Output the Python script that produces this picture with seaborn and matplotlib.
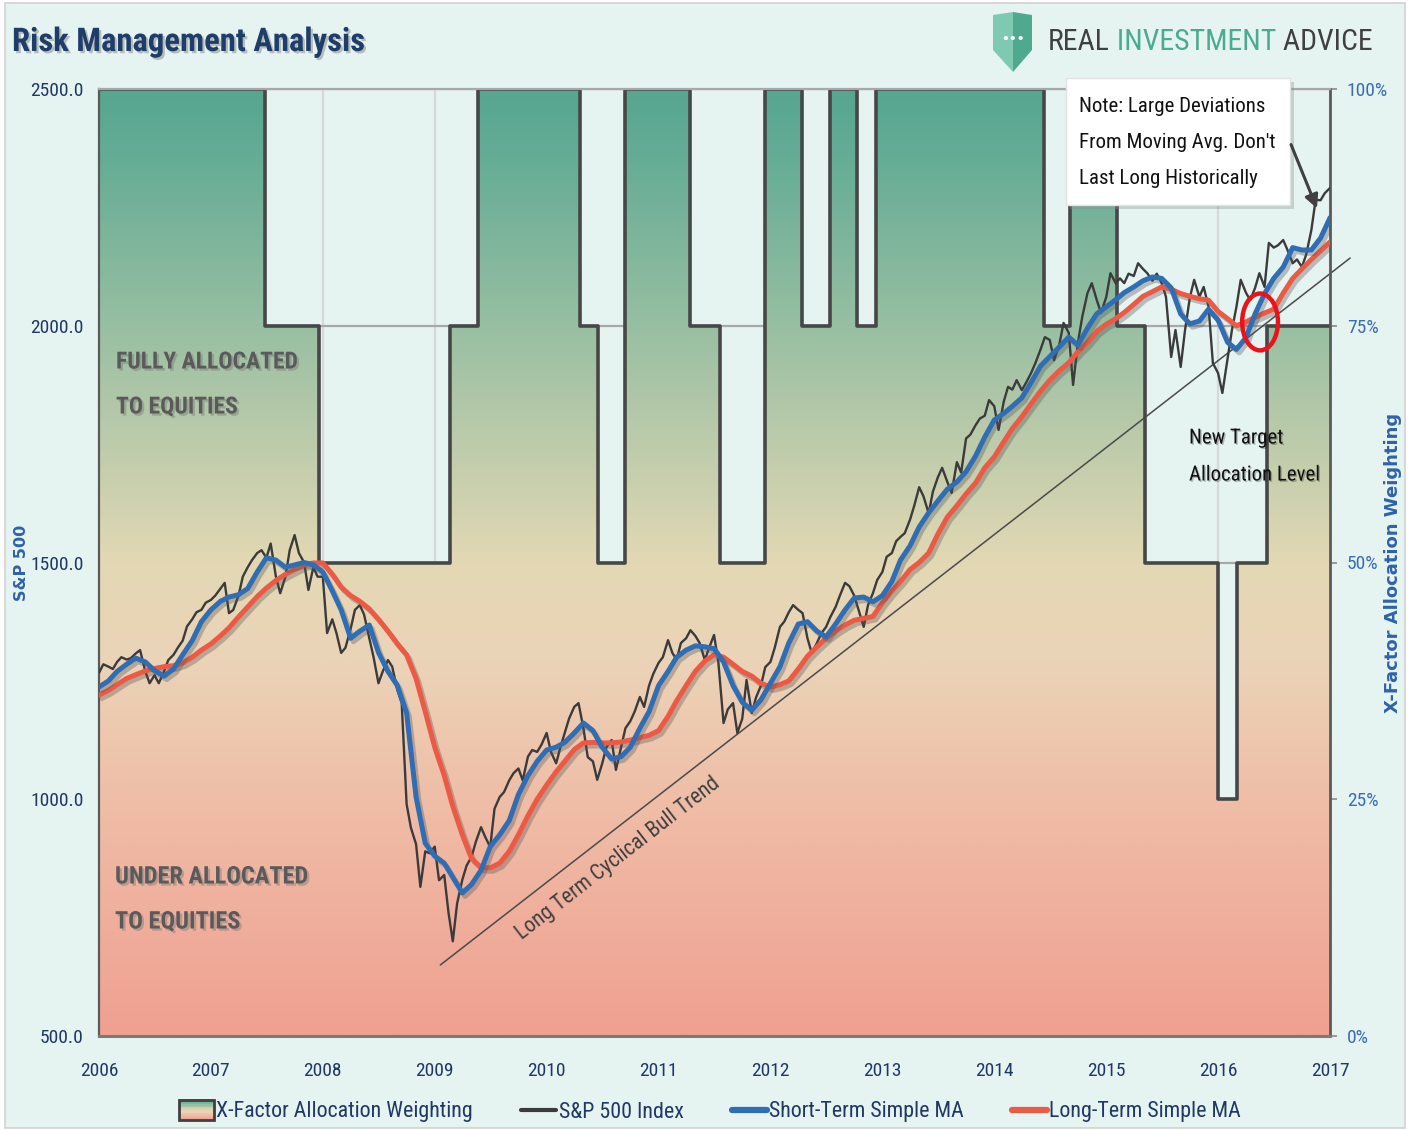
import numpy as np
import pandas as pd
import matplotlib
matplotlib.use("Agg")
import matplotlib.pyplot as plt
import seaborn as sns
from matplotlib import font_manager
from matplotlib.colors import LinearSegmentedColormap
from matplotlib.patches import Rectangle, Ellipse, Polygon, FancyArrowPatch
from matplotlib.legend_handler import HandlerBase
from matplotlib.lines import Line2D
import matplotlib.patheffects as pe

# ---------------- data ----------------
# S&P 500, semi-monthly (1st & 15th of each month), Jan 2006 .. Jan 2017
sp500_values = [
    1267, 1285, 1280, 1275, 1290, 1300, 1295, 1298, 1308, 1315, 1270, 1245, 1262, 1245, 1270, 1294, 1305, 1320, 1335, 1365, 1380, 1395, 1400, 1415,
    1421, 1430, 1445, 1457, 1393, 1400, 1430, 1470, 1490, 1505, 1520, 1526, 1510, 1540, 1470, 1435, 1470, 1526, 1558, 1520, 1500, 1442, 1490, 1470,
    1470, 1351, 1380, 1350, 1309, 1320, 1360, 1400, 1410, 1390, 1340, 1300, 1245, 1270, 1294, 1280, 1230, 1203, 990, 940, 905, 815, 890, 886,
    900, 829, 840, 760, 700, 780, 830, 860, 878, 910, 941, 920, 899, 980, 1005, 1015, 1040, 1055, 1065, 1040, 1090, 1104, 1100, 1115,
    1140, 1100, 1076, 1110, 1140, 1170, 1195, 1203, 1150, 1089, 1080, 1041, 1075, 1110, 1125, 1062, 1110, 1150, 1165, 1185, 1216, 1195, 1240, 1265,
    1288, 1300, 1336, 1309, 1295, 1330, 1340, 1357, 1345, 1330, 1294, 1320, 1347, 1290, 1161, 1190, 1203, 1140, 1170, 1252, 1182, 1215, 1240, 1279,
    1290, 1320, 1364, 1375, 1395, 1410, 1400, 1393, 1340, 1309, 1330, 1350, 1364, 1385, 1406, 1430, 1457, 1450, 1430, 1400, 1364, 1410, 1435, 1463,
    1480, 1512, 1520, 1545, 1554, 1562, 1590, 1620, 1659, 1640, 1604, 1650, 1680, 1700, 1670, 1647, 1712, 1690, 1762, 1770, 1790, 1804, 1810, 1843,
    1830, 1780, 1840, 1871, 1865, 1885, 1864, 1880, 1900, 1921, 1950, 1976, 1970, 1927, 1960, 2006, 1985, 1875, 1965, 2019, 2069, 2090, 2055, 2027,
    2060, 2111, 2090, 2100, 2090, 2110, 2105, 2132, 2120, 2111, 2095, 2110, 2090, 2061, 1934, 1991, 1913, 1990, 2060, 2097, 2061, 2082, 2040, 1921,
    1900, 1858, 1930, 1990, 2040, 2097, 2070, 2054, 2080, 2111, 2082, 2175, 2165, 2170, 2181, 2160, 2132, 2140, 2124, 2150, 2202, 2266, 2265, 2280,
    2291,
]
# Short-term simple MA, monthly, Jan 2006 .. Jan 2017
short_ma_values = [
    1237, 1250, 1270, 1285, 1298, 1290, 1272, 1260, 1275, 1305, 1335, 1375,
    1400, 1418, 1427, 1432, 1445, 1480, 1510, 1505, 1490, 1495, 1500, 1495,
    1480, 1440, 1400, 1340, 1355, 1368, 1310, 1270, 1240, 1182, 1005, 907,
    880, 865, 835, 802, 820, 850, 900, 925, 955, 1010, 1050, 1080,
    1104, 1110, 1120, 1140, 1161, 1145, 1110, 1085, 1090, 1110, 1150, 1185,
    1240, 1270, 1300, 1315, 1324, 1322, 1318, 1290, 1240, 1205, 1188, 1210,
    1245, 1280, 1330, 1370, 1375, 1355, 1343, 1370, 1400, 1425, 1427, 1417,
    1430, 1460, 1505, 1535, 1575, 1605, 1630, 1655, 1670, 1692, 1725, 1765,
    1801, 1815, 1830, 1848, 1880, 1915, 1935, 1955, 1976, 1959, 1995, 2025,
    2040, 2055, 2070, 2082, 2095, 2103, 2100, 2080, 2025, 2004, 2010, 2035,
    2012, 1965, 1950, 1975, 2025, 2068, 2100, 2124, 2165, 2160, 2160, 2185,
    2228,
]
# Long-term simple MA, monthly, Jan 2006 .. Jan 2017
long_ma_values = [
    1220, 1230, 1242, 1255, 1263, 1271, 1276, 1280, 1282, 1288, 1300, 1315,
    1328, 1345, 1362, 1385, 1406, 1428, 1446, 1462, 1475, 1485, 1495, 1499,
    1499, 1475, 1448, 1430, 1418, 1402, 1380, 1355, 1328, 1305, 1255, 1185,
    1110, 1050, 985, 925, 875, 856, 855, 865, 890, 925, 965, 1000,
    1030, 1058, 1080, 1105, 1119, 1120, 1119, 1119, 1121, 1125, 1130, 1135,
    1145, 1175, 1208, 1240, 1270, 1292, 1305, 1300, 1285, 1270, 1260, 1245,
    1237, 1242, 1250, 1275, 1302, 1322, 1340, 1355, 1368, 1378, 1382, 1386,
    1415, 1440, 1460, 1485, 1500, 1520, 1560, 1596, 1620, 1645, 1668, 1700,
    1723, 1755, 1783, 1808, 1835, 1862, 1885, 1905, 1922, 1945, 1965, 1988,
    2003, 2015, 2028, 2045, 2062, 2072, 2082, 2077, 2068, 2062, 2057, 2054,
    2030, 2015, 2000, 2008, 2018, 2027, 2035, 2069, 2100, 2120, 2140, 2158,
    2177,
]
# X-Factor allocation weighting (%): level in force from each change date
alloc_change_years = [2006.00, 2007.48, 2007.97, 2009.14, 2009.39, 2010.30, 2010.46, 2010.70,
                      2011.28, 2011.55, 2011.95, 2012.28, 2012.53, 2012.77, 2012.94, 2014.44,
                      2014.68, 2015.10, 2015.35, 2016.00, 2016.17, 2016.44]
alloc_levels = [100, 75, 50, 75, 100, 75, 50, 100,
                75, 50, 100, 75, 100, 75, 100, 75,
                100, 75, 50, 25, 50, 75]
alloc_end_year = 2017.0
# long-term cyclical bull trend line
trend_years = [2009.05, 2017.18]
trend_levels = [650, 2143]
# highlighted crossover
circle_year, circle_level = 2016.375, 2008

year_ticks = list(range(2006, 2018))
left_ticks = [500, 1000, 1500, 2000, 2500]
right_ticks = [0, 25, 50, 75, 100]
legend_labels = ["X-Factor Allocation Weighting", "S&P 500 Index", "Short-Term Simple MA", "Long-Term Simple MA"]

# ---------------- style ----------------
sns.set_theme(style="white")
installed = {f.name for f in font_manager.fontManager.ttflist}
narrow = None
for cand in ["Liberation Sans Narrow", "Roboto Condensed", "Open Sans Condensed", "Arial Narrow"]:
    if cand in installed:
        narrow = cand
        break
if narrow is None:
    narrow = "Liberation Sans" if "Liberation Sans" in installed else "DejaVu Sans"
    k = 0.86
else:
    k = 1.0
plt.rcParams["font.family"] = [narrow, "DejaVu Sans"]

BG = "#e6f4f1"
NAVY = "#203864"
BLUE_TXT = "#3a6db5"
C_SP = "#3b3b3b"
C_SHORT = "#2f6db5"
C_LONG = "#ec5a45"

grad_cmap = LinearSegmentedColormap.from_list(
    "alloc",
    [(0.00, "#f0a091"), (0.25, "#efbea7"), (0.40, "#ebd4b8"), (0.50, "#e3d8b4"),
     (0.75, "#98bfa2"), (0.93, "#65ac95"), (1.00, "#56a690")])

W, H = 1416, 1130
def fx(px):
    return px / W
def fy(py):
    return 1 - py / H

fig = plt.figure(figsize=(W / 100, H / 100), dpi=100, facecolor="white")
fig.add_artist(Rectangle((fx(5), fy(1128)), fx(1405) - fx(5), fy(3) - fy(1128),
                         transform=fig.transFigure, facecolor=BG, edgecolor="#d2d2d2",
                         lw=1.2, zorder=-10))

ax = fig.add_axes([fx(99), fy(1036), fx(1330) - fx(99), fy(89) - fy(1036)])
ax.set_facecolor(BG)

# allocation area with vertical gradient
xs = alloc_change_years + [alloc_end_year]
ys = alloc_levels + [alloc_levels[-1]]
poly = ax.fill_between(xs, ys, 0, step="post", facecolor="none", edgecolor="none", zorder=1)
clip_path = poly.get_paths()[0]
grad = np.linspace(0, 1, 512).reshape(-1, 1)
im = ax.imshow(grad, extent=[2006, 2017, 0, 100], origin="lower", aspect="auto",
               cmap=grad_cmap, zorder=1, interpolation="bilinear")
im.set_clip_path(clip_path, ax.transData)
ax.step(xs, ys, where="post", color="#474747", lw=2.6, zorder=2)

ax.set_xlim(2006, 2017)
ax.set_ylim(0, 100)
ax.set_axisbelow(True)
ax.grid(axis="x", color="#d8d8d8", lw=1.6)
ax.grid(axis="y", color="#a8a8a8", lw=1.6)
for s in ax.spines.values():
    s.set_visible(False)

# price axis
ax2 = ax.twinx()
ax2.patch.set_visible(False)
ax2.yaxis.tick_left()
ax2.yaxis.set_label_position("left")
ax.yaxis.tick_right()
ax.yaxis.set_label_position("right")

ax.set_xticks(year_ticks)
ax.set_xticklabels([str(y) for y in year_ticks])
ax.set_yticks(right_ticks)
ax.set_yticklabels([f"{v}%" for v in right_ticks])
ax.tick_params(axis="x", length=0, pad=19, labelsize=14 * k, labelcolor=NAVY)
ax.tick_params(axis="y", which="both", left=False, labelleft=False, right=True, labelright=True,
               length=5, width=1.2, color="#8a8a8a", direction="out", pad=7,
               labelsize=14 * k, labelcolor=BLUE_TXT)

semi_dates = pd.date_range("2006-01-01", "2017-01-01", freq="SMS")
month_dates = pd.date_range("2006-01-01", "2017-01-01", freq="MS")
def dec_year(idx):
    days = np.where(idx.is_leap_year, 366.0, 365.0)
    return idx.year + (idx.dayofyear - 1) / days

sp_df = pd.DataFrame({"t": dec_year(semi_dates), "v": sp500_values})
short_df = pd.DataFrame({"t": dec_year(month_dates), "v": short_ma_values})
long_df = pd.DataFrame({"t": dec_year(month_dates), "v": long_ma_values})

shadow_line = [pe.SimpleLineShadow(offset=(2, -2.5), shadow_color="#555555", alpha=0.35), pe.Normal()]

ax2.plot(trend_years, trend_levels, color="#4a4a4a", lw=1.1, clip_on=False, zorder=2)
sns.lineplot(data=sp_df, x="t", y="v", ax=ax2, color=C_SP, linewidth=1.7, legend=False, zorder=3)
sns.lineplot(data=long_df, x="t", y="v", ax=ax2, color=C_LONG, linewidth=3.6, legend=False, zorder=4)
ax2.lines[-1].set_path_effects(shadow_line)
sns.lineplot(data=short_df, x="t", y="v", ax=ax2, color=C_SHORT, linewidth=3.6, legend=False, zorder=5)
ax2.lines[-1].set_path_effects(shadow_line)

ax2.add_patch(Ellipse((circle_year, circle_level), width=0.32, height=120, fill=False,
                      edgecolor="#e8141b", lw=3.2, zorder=6))

ax2.set_xlim(2006, 2017)
ax2.set_ylim(500, 2500)
ax2.set_yticks(left_ticks)
ax2.set_yticklabels([f"{v:.1f}" for v in left_ticks])
ax2.tick_params(axis="y", which="both", left=True, labelleft=True, right=False, labelright=False,
                length=0, pad=11, labelsize=14 * k, labelcolor=NAVY)
ax2.set_xlabel("")
ax2.set_ylabel("")
ax.set_xlabel("")
ax.set_ylabel("")
ax2.spines["left"].set_color("#5a5a5a")
ax2.spines["left"].set_linewidth(1.6)
ax2.spines["right"].set_color("#5a5a5a")
ax2.spines["right"].set_linewidth(2.0)
ax2.spines["bottom"].set_color("#7a7a7a")
ax2.spines["bottom"].set_linewidth(2.2)
ax2.spines["top"].set_color("#a8a8a8")
ax2.spines["top"].set_linewidth(1.6)

# trend label
fig.text(fx(618), fy(858), "Long Term Cyclical Bull Trend", rotation=37.8, ha="center", va="center",
         fontsize=15.5 * k, color="#404040", zorder=6)

# ---------------- texts ----------------
txt_shadow = [pe.withSimplePatchShadow(offset=(1.6, -1.6), shadow_rgbFace="#7a7a7a", alpha=0.45)]

fig.text(fx(12), fy(42), "Risk Management Analysis", fontsize=23.5 * k, weight="bold",
         color="#1f3d6a", va="center", ha="left", path_effects=txt_shadow)

for line, py in [("FULLY ALLOCATED", 362), ("TO EQUITIES", 407)]:
    fig.text(fx(116), fy(py), line, fontsize=17 * k, weight="bold", color="#5a5a5a",
             va="center", ha="left", path_effects=txt_shadow, zorder=6)
for line, py in [("UNDER ALLOCATED", 877), ("TO EQUITIES", 922)]:
    fig.text(fx(115), fy(py), line, fontsize=17.5 * k, weight="bold", color="#5a5a5a",
             va="center", ha="left", path_effects=txt_shadow, zorder=6)

for line, py in [("New Target", 438), ("Allocation Level", 475)]:
    fig.text(fx(1189), fy(py), line, fontsize=15 * k, color="#111111", va="center",
             ha="left", zorder=6, path_effects=[pe.withSimplePatchShadow(offset=(1, -1), alpha=0.25)])

# note box
fig.add_artist(Rectangle((fx(1070), fy(209)), fx(1294) - fx(1070), fy(82) - fy(209),
                         transform=fig.transFigure, facecolor="#8a8a8a", edgecolor="none",
                         alpha=0.35, zorder=5))
fig.add_artist(Rectangle((fx(1066), fy(205)), fx(1290) - fx(1066), fy(78) - fy(205),
                         transform=fig.transFigure, facecolor="white", edgecolor="#e2e2e2",
                         lw=1, zorder=5.1))
for line, py in [("Note: Large Deviations", 106), ("From Moving Avg. Don't", 142),
                 ("Last Long Historically", 178)]:
    fig.text(fx(1079), fy(py), line, fontsize=15 * k, color="#111111", va="center",
             ha="left", zorder=6)
fig.add_artist(FancyArrowPatch((fx(1290), fy(142)), (fx(1318), fy(211)),
                               transform=fig.transFigure, arrowstyle="-|>", mutation_scale=20,
                               color="#404040", lw=2.2, zorder=6))

# axis titles
fig.text(fx(22), fy(563), "S&P 500", rotation=90, fontsize=11.5, weight="bold",
         color="#2f62a8", ha="center", va="center", family=["DejaVu Sans"])
fig.text(fx(1393), fy(563), "X-Factor Allocation Weighting", rotation=90, fontsize=13,
         weight="bold", color="#2f62a8", ha="center", va="center", family=["DejaVu Sans"])

# logo
fig.add_artist(Polygon([(fx(993), fy(15)), (fx(1013), fy(12)), (fx(1013), fy(72)), (fx(993), fy(50))],
                       closed=True, transform=fig.transFigure, facecolor="#7fc8b2",
                       edgecolor="none", zorder=5))
fig.add_artist(Polygon([(fx(1013), fy(12)), (fx(1032), fy(15)), (fx(1032), fy(50)), (fx(1013), fy(72))],
                       closed=True, transform=fig.transFigure, facecolor="#4ea98f",
                       edgecolor="none", zorder=5))
fig.text(fx(1013), fy(40), "•••", fontsize=9, color="white", ha="center", va="center",
         weight="bold", zorder=6, family=["DejaVu Sans"])
t1 = fig.text(fx(1048), fy(42), "REAL", fontsize=21.4 * k, color="#404040", va="center", ha="left")
t2 = ax.annotate(" INVESTMENT", xy=(1, 0), xycoords=t1, va="bottom", ha="left",
                 fontsize=21.4 * k, color="#4aab90", annotation_clip=False)
t3 = ax.annotate(" ADVICE", xy=(1, 0), xycoords=t2, va="bottom", ha="left",
                 fontsize=21.4 * k, color="#404040", annotation_clip=False)

# ---------------- legend ----------------
class GradProxy:
    pass

class GradHandler(HandlerBase):
    def create_artists(self, legend, orig_handle, xdescent, ydescent, width, height, fontsize, trans):
        arts = []
        n = 14
        y0 = -ydescent - 0.15 * height
        hh = height * 1.3
        for i in range(n):
            r = Rectangle((-xdescent, y0 + i * hh / n), width, hh / n + 0.3,
                          facecolor=grad_cmap((i + 0.5) / n), edgecolor="none", transform=trans)
            arts.append(r)
        arts.append(Rectangle((-xdescent, y0), width, hh, facecolor="none",
                              edgecolor="#404040", lw=2, transform=trans))
        return arts

handles = [GradProxy(),
           Line2D([], [], color=C_SP, lw=3),
           Line2D([], [], color=C_SHORT, lw=4.5),
           Line2D([], [], color=C_LONG, lw=4.5)]
leg = fig.legend(handles, legend_labels, handler_map={GradProxy: GradHandler()},
                 loc="center", bbox_to_anchor=(fx(710), fy(1112)), ncol=4, frameon=False,
                 fontsize=15.8 * k, handlelength=1.6, handletextpad=0.1, columnspacing=2.2,
                 labelcolor=NAVY)

fig.savefig("out.png", dpi=100, facecolor=fig.get_facecolor())
